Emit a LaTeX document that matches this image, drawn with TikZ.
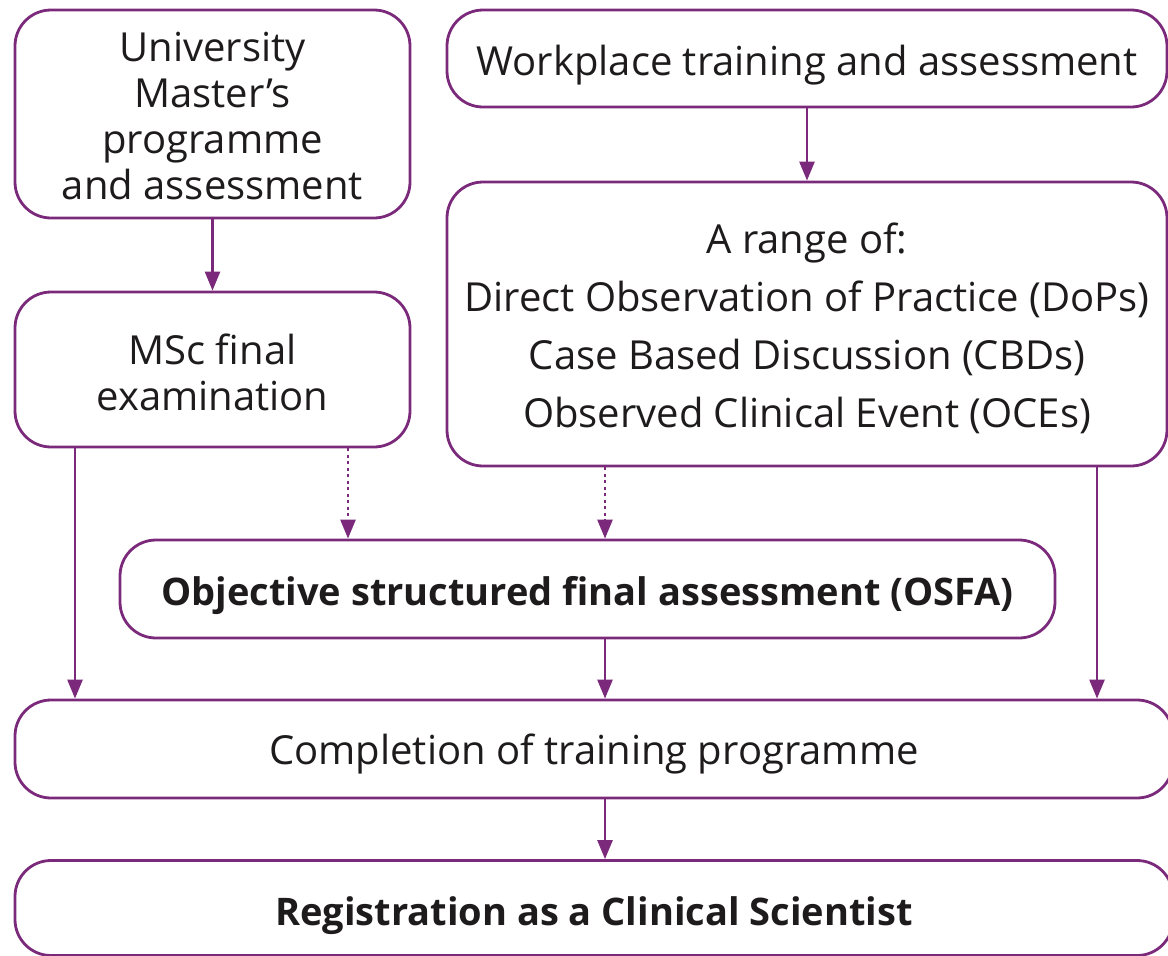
\documentclass[tikz,border=0pt]{standalone}
\usepackage{fontspec}
\setmainfont{Open Sans}
\usetikzlibrary{arrows.meta}
\definecolor{plum}{HTML}{7B2A7B}
\definecolor{ink}{HTML}{1E1B1C}
\tikzset{
  box/.style={draw=plum, line width=2.8pt, rounded corners=36pt, inner sep=0pt},
  txt/.style={inner sep=0pt, text=ink, align=center, font=\fontsize{40}{46}\selectfont},
  boldtxt/.style={txt, font=\fontsize{38}{46}\bfseries},
  conn/.style={draw=plum, line width=2.6pt, -{Triangle[length=19pt,width=15pt]}},
  dotconn/.style={conn, dash pattern=on 3pt off 3.5pt},
}
\begin{document}
\begin{tikzpicture}[x=1pt,y=-1pt]
\useasboundingbox (0,0) rectangle (1168,956);
\clip (0,0) rectangle (1168,956);
% boxes
\node[box, minimum width=395pt, minimum height=208pt] (univ) at (212.5,114) {};
\node[box, minimum width=720pt, minimum height=97pt] (work) at (807,58.5) {};
\node[box, minimum width=720pt, minimum height=284pt] (range) at (807,324) {};
\node[box, minimum width=395pt, minimum height=155pt] (msc) at (212.5,369.5) {};
\node[box, minimum width=935pt, minimum height=98pt] (osfa) at (587.5,589) {};
\node[box, minimum width=1158pt, minimum height=98pt] (comp) at (594,749) {};
\node[box, minimum width=1158pt, minimum height=95pt] (reg) at (594,908) {};
% texts
\node[txt] (univt) at (212.5,116) {University\\Master’s\\programme\\and assessment};
\node[txt] (workt) at (807,65.5) {Workplace training and assessment};
\node[txt, font=\fontsize{40}{58}\selectfont] (ranget) at (807,328)
  {A range of:\\Direct Observation of Practice (DoPs)\\Case Based Discussion (CBDs)\\Observed Clinical Event (OCEs)};
\node[txt] (msct) at (212.5,372.5) {MSc final\\examination};
\node[boldtxt] (osfat) at (587.5,596) {Objective structured final assessment (OSFA)};
\node[txt] (compt) at (594,754) {Completion of training programme};
\node[boldtxt] (regt) at (594,916) {Registration as a Clinical Scientist};
% connectors
\draw[conn] (univ.south) -- (msc.north);
\draw[conn] (work.south) -- (range.north);
\draw[conn] (msc.south -| 75,0) -- (comp.north -| 75,0);
\draw[dotconn] (msc.south -| 348,0) -- (osfa.north -| 348,0);
\draw[dotconn] (range.south -| 605,0) -- (osfa.north -| 605,0);
\draw[conn] (range.south -| 1097,0) -- (comp.north -| 1097,0);
\draw[conn] (osfa.south -| 605,0) -- (comp.north -| 605,0);
\draw[conn] (comp.south -| 605,0) -- (reg.north -| 605,0);
\end{tikzpicture}
\end{document}
